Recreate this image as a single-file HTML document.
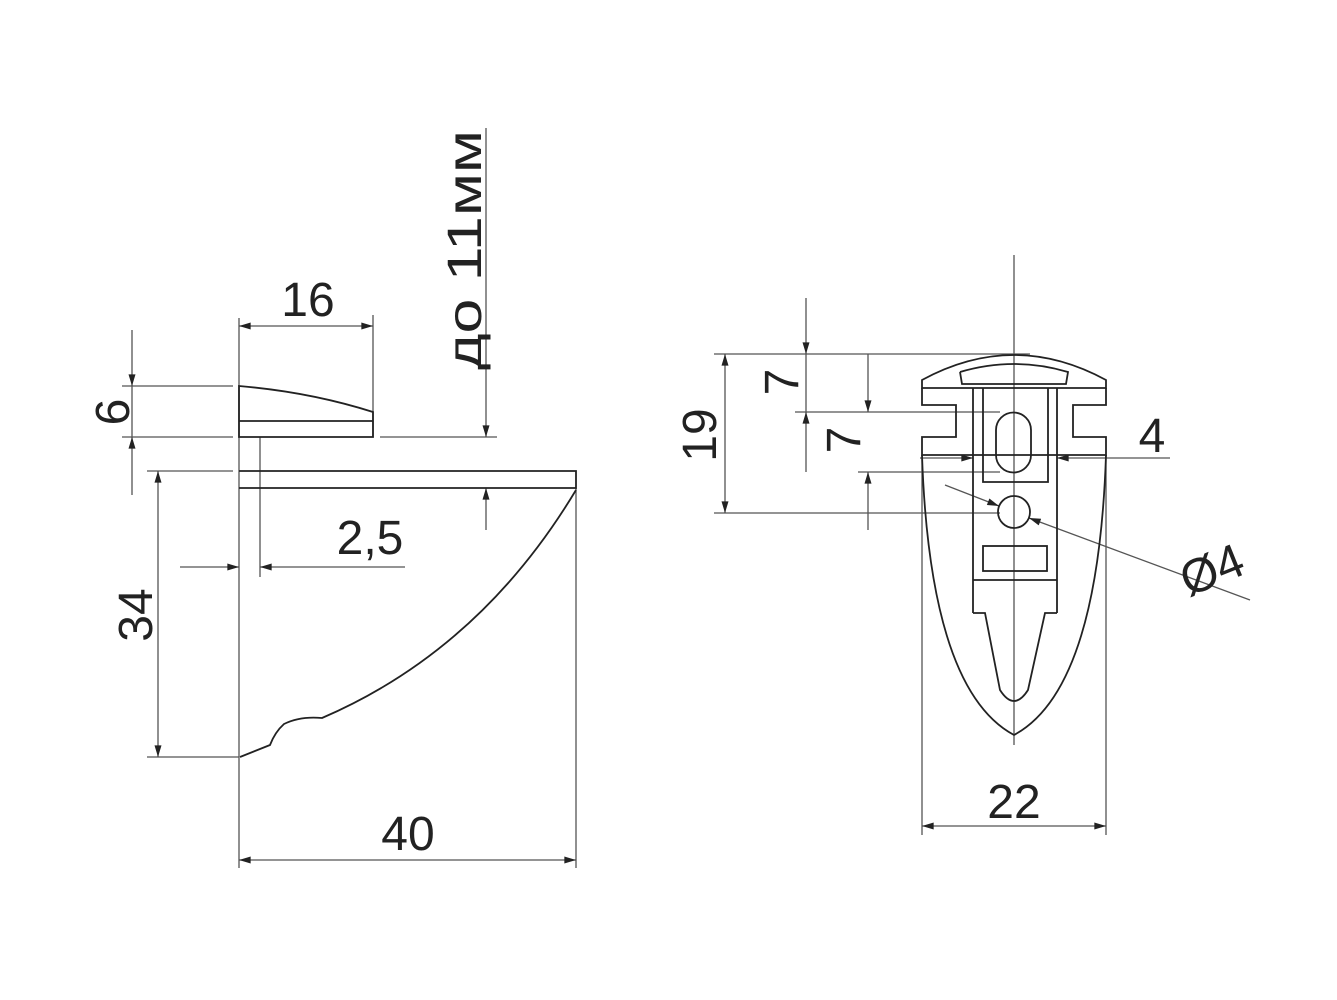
<!DOCTYPE html>
<html><head><meta charset="utf-8"><style>
html,body{margin:0;padding:0;background:#fff}
svg{display:block}
text{font-family:"Liberation Sans","DejaVu Sans",sans-serif;fill:#222}
</style></head><body>
<svg width="1337" height="1000" viewBox="0 0 1337 1000" xmlns="http://www.w3.org/2000/svg">
<defs>
<marker id="a" viewBox="0 0 10 6" refX="10" refY="3" markerWidth="20" markerHeight="7" markerUnits="userSpaceOnUse" orient="auto-start-reverse"><path d="M0,0L10,3L0,6z" fill="#222"/></marker>
</defs>
<g stroke="#555" stroke-width="1.3" fill="none">
<line x1="239" y1="318" x2="239" y2="868"/>
<line x1="373" y1="315" x2="373" y2="437"/>
<line x1="122" y1="386" x2="233" y2="386"/>
<line x1="122" y1="437" x2="233" y2="437"/>
<line x1="380" y1="437" x2="497" y2="437"/>
<line x1="147" y1="471" x2="233" y2="471"/>
<line x1="147" y1="757" x2="239" y2="757"/>
<line x1="576" y1="488" x2="576" y2="868"/>
<line x1="260" y1="437" x2="260" y2="577"/>
<line x1="239" y1="326" x2="373" y2="326" marker-start="url(#a)" marker-end="url(#a)"/>
<line x1="132" y1="330" x2="132" y2="386" marker-end="url(#a)"/>
<line x1="132" y1="495" x2="132" y2="437" marker-end="url(#a)"/>
<line x1="132" y1="386" x2="132" y2="437"/>
<line x1="158" y1="471" x2="158" y2="757" marker-start="url(#a)" marker-end="url(#a)"/>
<line x1="486" y1="128" x2="486" y2="437" marker-end="url(#a)"/>
<line x1="486" y1="530" x2="486" y2="488" marker-end="url(#a)"/>
<line x1="180" y1="567" x2="239" y2="567" marker-end="url(#a)"/>
<line x1="405" y1="567" x2="260" y2="567" marker-end="url(#a)"/>
<line x1="239" y1="860" x2="576" y2="860" marker-start="url(#a)" marker-end="url(#a)"/>
</g>
<g stroke="#222" stroke-width="1.8" fill="none">
<path d="M239,386 Q310,392 373,412 L373,437 L239,437 Z"/>
<line x1="239" y1="421" x2="373" y2="421"/>
<path d="M239,471 L576,471 L576,488 L239,488"/>
<path d="M576,490 Q480,650 322,718 Q300,716 284,724 Q275,732 270,745 L240,757"/>
</g>
<text x="308" y="316" font-size="48" text-anchor="middle">16</text>
<text x="370" y="554" font-size="48" text-anchor="middle">2,5</text>
<text x="408" y="850" font-size="48" text-anchor="middle">40</text>
<text transform="translate(129,412) rotate(-90)" font-size="48" text-anchor="middle">6</text>
<text transform="translate(152,615) rotate(-90)" font-size="48" text-anchor="middle">34</text>
<text transform="translate(481,250) rotate(-90)" font-size="48" text-anchor="middle" textLength="240" lengthAdjust="spacingAndGlyphs">до 11мм</text>

<g stroke="#555" stroke-width="1.3" fill="none">
<line x1="1014" y1="255" x2="1014" y2="745"/>
<line x1="714" y1="354" x2="1030" y2="354"/>
<line x1="795" y1="412" x2="1000" y2="412"/>
<line x1="858" y1="472" x2="1000" y2="472"/>
<line x1="714" y1="513" x2="1000" y2="513"/>
<line x1="922" y1="455" x2="922" y2="835"/>
<line x1="1106" y1="455" x2="1106" y2="835"/>
<line x1="725" y1="354" x2="725" y2="513" marker-start="url(#a)" marker-end="url(#a)"/>
<line x1="806" y1="298" x2="806" y2="354" marker-end="url(#a)"/>
<line x1="806" y1="472" x2="806" y2="412" marker-end="url(#a)"/>
<line x1="806" y1="354" x2="806" y2="412"/>
<line x1="868" y1="354" x2="868" y2="412" marker-end="url(#a)"/>
<line x1="868" y1="530" x2="868" y2="472" marker-end="url(#a)"/>
<line x1="920" y1="458" x2="973" y2="458" marker-end="url(#a)"/>
<line x1="1170" y1="458" x2="1057" y2="458" marker-end="url(#a)"/>
<line x1="945" y1="485" x2="999" y2="506" marker-end="url(#a)"/>
<line x1="1250" y1="600" x2="1029" y2="518" marker-end="url(#a)"/>
<line x1="922" y1="826" x2="1106" y2="826" marker-start="url(#a)" marker-end="url(#a)"/>
</g>
<g stroke="#222" stroke-width="1.8" fill="none">
<path d="M922,388 L922,380 Q1014,330 1106,380 L1106,388 Z"/>
<path d="M960,372 L962,384 L1066,384 L1068,372 Q1014,356 960,372"/>
<path d="M922,388 L922,405 L956,405 L956,437 L922,437 L922,455 L1106,455 L1106,437 L1073,437 L1073,405 L1106,405 L1106,388"/>
<line x1="973" y1="388" x2="973" y2="613"/>
<line x1="1057" y1="388" x2="1057" y2="613"/>
<path d="M983,388 L983,482 L1048,482 L1048,388"/>
<path d="M996,430 A17.5,17.5 0 0 1 1031,430 L1031,455 A17.5,17.5 0 0 1 996,455 Z"/>
<circle cx="1014" cy="512" r="16"/>
<rect x="983" y="546" width="64" height="25"/>
<line x1="973" y1="580" x2="1057" y2="580"/>
<path d="M973,613 L985,613 L1000,690 Q1014,712 1028,690 L1045,613 L1057,613"/>
<path d="M922,455 Q930,690 1014,735 Q1098,690 1106,455"/>
</g>
<text transform="translate(716,435) rotate(-90)" font-size="48" text-anchor="middle">19</text>
<text transform="translate(798,382) rotate(-90)" font-size="48" text-anchor="middle">7</text>
<text transform="translate(860,440) rotate(-90)" font-size="48" text-anchor="middle">7</text>
<text x="1152" y="452" font-size="48" text-anchor="middle">4</text>
<text transform="translate(1218,585) rotate(-22)" font-size="48" text-anchor="middle">Ø4</text>
<text x="1014" y="818" font-size="48" text-anchor="middle">22</text>
</svg>
</body></html>
